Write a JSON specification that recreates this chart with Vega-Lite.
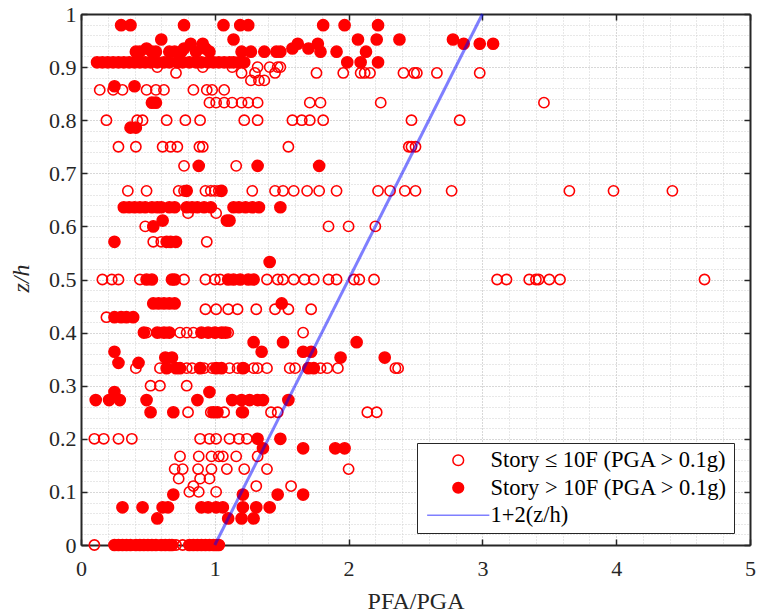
{
  "$schema": "https://vega.github.io/schema/vega-lite/v6.json",
  "width": 669,
  "height": 531,
  "autosize": {"type": "none"},
  "padding": {"left": 81, "top": 14, "right": 9, "bottom": 71},
  "background": "white",
  "config": {
    "view": {"stroke": null},
    "legend": {
      "orient": "none",
      "legendX": 336,
      "legendY": 429,
      "fillColor": "white",
      "strokeColor": "#262626",
      "strokeWidth": 1,
      "padding": 6,
      "rowPadding": 4.5,
      "symbolSize": 115,
      "symbolOffset": 24,
      "labelOffset": 21,
      "labelFont": "Liberation Serif",
      "labelFontSize": 22.5,
      "labelColor": "black",
      "labelLimit": 400
    }
  },
  "datasets": {
    "low": [
      {"pfa":0.57,"zh":0.9,"series":"lo"},{"pfa":0.91,"zh":0.9,"series":"lo"},{"pfa":1.13,"zh":0.9,"series":"lo"},{"pfa":1.32,"zh":0.9,"series":"lo"},{"pfa":1.41,"zh":0.9,"series":"lo"},{"pfa":1.47,"zh":0.9,"series":"lo"},{"pfa":1.49,"zh":0.9,"series":"lo"},
      {"pfa":0.71,"zh":0.889,"series":"lo"},{"pfa":1.2,"zh":0.889,"series":"lo"},{"pfa":1.3,"zh":0.889,"series":"lo"},{"pfa":1.45,"zh":0.889,"series":"lo"},{"pfa":1.76,"zh":0.889,"series":"lo"},{"pfa":1.96,"zh":0.889,"series":"lo"},{"pfa":2.09,"zh":0.889,"series":"lo"},{"pfa":2.12,"zh":0.889,"series":"lo"},{"pfa":2.16,"zh":0.889,"series":"lo"},{"pfa":2.41,"zh":0.889,"series":"lo"},{"pfa":2.49,"zh":0.889,"series":"lo"},{"pfa":2.51,"zh":0.889,"series":"lo"},{"pfa":2.66,"zh":0.889,"series":"lo"},{"pfa":2.98,"zh":0.889,"series":"lo"},
      {"pfa":1.27,"zh":0.875,"series":"lo"},{"pfa":1.33,"zh":0.875,"series":"lo"},{"pfa":1.37,"zh":0.875,"series":"lo"},
      {"pfa":0.14,"zh":0.857,"series":"lo"},{"pfa":0.24,"zh":0.857,"series":"lo"},{"pfa":0.31,"zh":0.857,"series":"lo"},{"pfa":0.49,"zh":0.857,"series":"lo"},{"pfa":0.56,"zh":0.857,"series":"lo"},{"pfa":0.62,"zh":0.857,"series":"lo"},{"pfa":0.84,"zh":0.857,"series":"lo"},{"pfa":0.94,"zh":0.857,"series":"lo"},{"pfa":0.98,"zh":0.857,"series":"lo"},{"pfa":1.07,"zh":0.857,"series":"lo"},
      {"pfa":0.96,"zh":0.833,"series":"lo"},{"pfa":1.01,"zh":0.833,"series":"lo"},{"pfa":1.07,"zh":0.833,"series":"lo"},{"pfa":1.13,"zh":0.833,"series":"lo"},{"pfa":1.2,"zh":0.833,"series":"lo"},{"pfa":1.25,"zh":0.833,"series":"lo"},{"pfa":1.32,"zh":0.833,"series":"lo"},{"pfa":1.71,"zh":0.833,"series":"lo"},{"pfa":1.79,"zh":0.833,"series":"lo"},{"pfa":2.24,"zh":0.833,"series":"lo"},{"pfa":3.46,"zh":0.833,"series":"lo"},
      {"pfa":0.19,"zh":0.8,"series":"lo"},{"pfa":0.42,"zh":0.8,"series":"lo"},{"pfa":0.46,"zh":0.8,"series":"lo"},{"pfa":0.64,"zh":0.8,"series":"lo"},{"pfa":0.78,"zh":0.8,"series":"lo"},{"pfa":0.89,"zh":0.8,"series":"lo"},{"pfa":1.22,"zh":0.8,"series":"lo"},{"pfa":1.32,"zh":0.8,"series":"lo"},{"pfa":1.58,"zh":0.8,"series":"lo"},{"pfa":1.65,"zh":0.8,"series":"lo"},{"pfa":1.71,"zh":0.8,"series":"lo"},{"pfa":1.81,"zh":0.8,"series":"lo"},{"pfa":2.47,"zh":0.8,"series":"lo"},{"pfa":2.83,"zh":0.8,"series":"lo"},
      {"pfa":0.28,"zh":0.75,"series":"lo"},{"pfa":0.41,"zh":0.75,"series":"lo"},{"pfa":0.61,"zh":0.75,"series":"lo"},{"pfa":0.67,"zh":0.75,"series":"lo"},{"pfa":0.72,"zh":0.75,"series":"lo"},{"pfa":0.885,"zh":0.75,"series":"lo"},{"pfa":0.91,"zh":0.75,"series":"lo"},{"pfa":1.55,"zh":0.75,"series":"lo"},{"pfa":2.45,"zh":0.75,"series":"lo"},{"pfa":2.47,"zh":0.75,"series":"lo"},{"pfa":2.5,"zh":0.75,"series":"lo"},
      {"pfa":0.77,"zh":0.714,"series":"lo"},{"pfa":1.16,"zh":0.714,"series":"lo"},
      {"pfa":0.35,"zh":0.667,"series":"lo"},{"pfa":0.49,"zh":0.667,"series":"lo"},{"pfa":0.73,"zh":0.667,"series":"lo"},{"pfa":0.77,"zh":0.667,"series":"lo"},{"pfa":0.93,"zh":0.667,"series":"lo"},{"pfa":0.97,"zh":0.667,"series":"lo"},{"pfa":1.0,"zh":0.667,"series":"lo"},{"pfa":1.03,"zh":0.667,"series":"lo"},{"pfa":1.28,"zh":0.667,"series":"lo"},{"pfa":1.45,"zh":0.667,"series":"lo"},{"pfa":1.51,"zh":0.667,"series":"lo"},{"pfa":1.59,"zh":0.667,"series":"lo"},{"pfa":1.69,"zh":0.667,"series":"lo"},{"pfa":1.78,"zh":0.667,"series":"lo"},{"pfa":1.91,"zh":0.667,"series":"lo"},{"pfa":2.22,"zh":0.667,"series":"lo"},{"pfa":2.31,"zh":0.667,"series":"lo"},{"pfa":2.42,"zh":0.667,"series":"lo"},{"pfa":2.5,"zh":0.667,"series":"lo"},{"pfa":2.77,"zh":0.667,"series":"lo"},{"pfa":3.65,"zh":0.667,"series":"lo"},{"pfa":3.98,"zh":0.667,"series":"lo"},{"pfa":4.42,"zh":0.667,"series":"lo"},
      {"pfa":0.8,"zh":0.625,"series":"lo"},{"pfa":1.01,"zh":0.625,"series":"lo"},
      {"pfa":0.48,"zh":0.6,"series":"lo"},{"pfa":1.85,"zh":0.6,"series":"lo"},{"pfa":2.0,"zh":0.6,"series":"lo"},{"pfa":2.2,"zh":0.6,"series":"lo"},
      {"pfa":0.54,"zh":0.571,"series":"lo"},{"pfa":0.6,"zh":0.571,"series":"lo"},{"pfa":0.94,"zh":0.571,"series":"lo"},
      {"pfa":0.16,"zh":0.5,"series":"lo"},{"pfa":0.23,"zh":0.5,"series":"lo"},{"pfa":0.28,"zh":0.5,"series":"lo"},{"pfa":0.44,"zh":0.5,"series":"lo"},{"pfa":0.77,"zh":0.5,"series":"lo"},{"pfa":0.93,"zh":0.5,"series":"lo"},{"pfa":1.0,"zh":0.5,"series":"lo"},{"pfa":1.04,"zh":0.5,"series":"lo"},{"pfa":1.39,"zh":0.5,"series":"lo"},{"pfa":1.47,"zh":0.5,"series":"lo"},{"pfa":1.51,"zh":0.5,"series":"lo"},{"pfa":1.59,"zh":0.5,"series":"lo"},{"pfa":1.67,"zh":0.5,"series":"lo"},{"pfa":1.74,"zh":0.5,"series":"lo"},{"pfa":1.85,"zh":0.5,"series":"lo"},{"pfa":1.91,"zh":0.5,"series":"lo"},{"pfa":2.04,"zh":0.5,"series":"lo"},{"pfa":2.08,"zh":0.5,"series":"lo"},{"pfa":2.19,"zh":0.5,"series":"lo"},{"pfa":3.11,"zh":0.5,"series":"lo"},{"pfa":3.18,"zh":0.5,"series":"lo"},{"pfa":3.35,"zh":0.5,"series":"lo"},{"pfa":3.4,"zh":0.5,"series":"lo"},{"pfa":3.42,"zh":0.5,"series":"lo"},{"pfa":3.5,"zh":0.5,"series":"lo"},{"pfa":3.58,"zh":0.5,"series":"lo"},{"pfa":4.66,"zh":0.5,"series":"lo"},
      {"pfa":0.93,"zh":0.444,"series":"lo"},{"pfa":1.01,"zh":0.444,"series":"lo"},{"pfa":1.1,"zh":0.444,"series":"lo"},{"pfa":1.17,"zh":0.444,"series":"lo"},{"pfa":1.31,"zh":0.444,"series":"lo"},{"pfa":1.45,"zh":0.444,"series":"lo"},{"pfa":1.55,"zh":0.444,"series":"lo"},{"pfa":1.72,"zh":0.444,"series":"lo"},
      {"pfa":0.19,"zh":0.429,"series":"lo"},
      {"pfa":0.49,"zh":0.4,"series":"lo"},{"pfa":0.59,"zh":0.4,"series":"lo"},{"pfa":0.64,"zh":0.4,"series":"lo"},{"pfa":0.74,"zh":0.4,"series":"lo"},{"pfa":0.79,"zh":0.4,"series":"lo"},{"pfa":0.84,"zh":0.4,"series":"lo"},{"pfa":1.01,"zh":0.4,"series":"lo"},{"pfa":1.06,"zh":0.4,"series":"lo"},{"pfa":1.1,"zh":0.4,"series":"lo"},{"pfa":1.66,"zh":0.4,"series":"lo"},
      {"pfa":0.41,"zh":0.333,"series":"lo"},{"pfa":0.59,"zh":0.333,"series":"lo"},{"pfa":0.79,"zh":0.333,"series":"lo"},{"pfa":0.83,"zh":0.333,"series":"lo"},{"pfa":0.92,"zh":0.333,"series":"lo"},{"pfa":0.98,"zh":0.333,"series":"lo"},{"pfa":1.02,"zh":0.333,"series":"lo"},{"pfa":1.11,"zh":0.333,"series":"lo"},{"pfa":1.17,"zh":0.333,"series":"lo"},{"pfa":1.22,"zh":0.333,"series":"lo"},{"pfa":1.29,"zh":0.333,"series":"lo"},{"pfa":1.32,"zh":0.333,"series":"lo"},{"pfa":1.39,"zh":0.333,"series":"lo"},{"pfa":1.56,"zh":0.333,"series":"lo"},{"pfa":1.6,"zh":0.333,"series":"lo"},{"pfa":1.7,"zh":0.333,"series":"lo"},{"pfa":1.79,"zh":0.333,"series":"lo"},{"pfa":1.84,"zh":0.333,"series":"lo"},{"pfa":1.92,"zh":0.333,"series":"lo"},{"pfa":2.35,"zh":0.333,"series":"lo"},{"pfa":2.37,"zh":0.333,"series":"lo"},
      {"pfa":0.52,"zh":0.3,"series":"lo"},{"pfa":0.59,"zh":0.3,"series":"lo"},{"pfa":0.79,"zh":0.3,"series":"lo"},
      {"pfa":0.8,"zh":0.25,"series":"lo"},{"pfa":0.97,"zh":0.25,"series":"lo"},{"pfa":1.07,"zh":0.25,"series":"lo"},{"pfa":1.2,"zh":0.25,"series":"lo"},{"pfa":1.42,"zh":0.25,"series":"lo"},{"pfa":1.47,"zh":0.25,"series":"lo"},{"pfa":2.14,"zh":0.25,"series":"lo"},{"pfa":2.21,"zh":0.25,"series":"lo"},
      {"pfa":0.1,"zh":0.2,"series":"lo"},{"pfa":0.17,"zh":0.2,"series":"lo"},{"pfa":0.28,"zh":0.2,"series":"lo"},{"pfa":0.38,"zh":0.2,"series":"lo"},{"pfa":0.89,"zh":0.2,"series":"lo"},{"pfa":0.96,"zh":0.2,"series":"lo"},{"pfa":1.01,"zh":0.2,"series":"lo"},{"pfa":1.11,"zh":0.2,"series":"lo"},{"pfa":1.18,"zh":0.2,"series":"lo"},{"pfa":1.24,"zh":0.2,"series":"lo"},
      {"pfa":0.74,"zh":0.167,"series":"lo"},{"pfa":0.88,"zh":0.167,"series":"lo"},{"pfa":0.975,"zh":0.167,"series":"lo"},{"pfa":1.03,"zh":0.167,"series":"lo"},{"pfa":1.06,"zh":0.167,"series":"lo"},{"pfa":1.16,"zh":0.167,"series":"lo"},{"pfa":1.32,"zh":0.167,"series":"lo"},
      {"pfa":0.7,"zh":0.143,"series":"lo"},{"pfa":0.76,"zh":0.143,"series":"lo"},{"pfa":0.875,"zh":0.143,"series":"lo"},{"pfa":0.975,"zh":0.143,"series":"lo"},{"pfa":1.09,"zh":0.143,"series":"lo"},{"pfa":1.22,"zh":0.143,"series":"lo"},{"pfa":1.39,"zh":0.143,"series":"lo"},{"pfa":2.0,"zh":0.143,"series":"lo"},
      {"pfa":0.73,"zh":0.125,"series":"lo"},{"pfa":0.89,"zh":0.125,"series":"lo"},{"pfa":0.96,"zh":0.125,"series":"lo"},
      {"pfa":0.84,"zh":0.111,"series":"lo"},{"pfa":1.31,"zh":0.111,"series":"lo"},{"pfa":1.57,"zh":0.111,"series":"lo"},
      {"pfa":0.81,"zh":0.1,"series":"lo"},{"pfa":0.88,"zh":0.1,"series":"lo"},{"pfa":1.01,"zh":0.1,"series":"lo"},
      {"pfa":0.1,"zh":0,"series":"lo"},{"pfa":0.71,"zh":0,"series":"lo"},{"pfa":0.76,"zh":0,"series":"lo"}
    ],
    "high": [
      {"pfa":0.3,"zh":0.979,"series":"hi"},{"pfa":0.37,"zh":0.979,"series":"hi"},{"pfa":0.77,"zh":0.979,"series":"hi"},{"pfa":1.065,"zh":0.979,"series":"hi"},{"pfa":1.19,"zh":0.979,"series":"hi"},{"pfa":1.25,"zh":0.979,"series":"hi"},{"pfa":1.81,"zh":0.979,"series":"hi"},{"pfa":1.97,"zh":0.979,"series":"hi"},{"pfa":2.22,"zh":0.979,"series":"hi"},
      {"pfa":0.6,"zh":0.952,"series":"hi"},{"pfa":1.14,"zh":0.952,"series":"hi"},{"pfa":2.07,"zh":0.952,"series":"hi"},{"pfa":2.21,"zh":0.952,"series":"hi"},{"pfa":2.38,"zh":0.952,"series":"hi"},{"pfa":2.78,"zh":0.952,"series":"hi"},
      {"pfa":0.82,"zh":0.944,"series":"hi"},{"pfa":0.91,"zh":0.944,"series":"hi"},{"pfa":1.62,"zh":0.944,"series":"hi"},{"pfa":1.77,"zh":0.944,"series":"hi"},{"pfa":2.86,"zh":0.944,"series":"hi"},{"pfa":2.98,"zh":0.944,"series":"hi"},{"pfa":3.08,"zh":0.944,"series":"hi"},
      {"pfa":0.49,"zh":0.935,"series":"hi"},{"pfa":0.77,"zh":0.935,"series":"hi"},{"pfa":0.93,"zh":0.935,"series":"hi"},{"pfa":1.58,"zh":0.935,"series":"hi"},{"pfa":1.7,"zh":0.935,"series":"hi"},
      {"pfa":0.41,"zh":0.929,"series":"hi"},{"pfa":0.44,"zh":0.929,"series":"hi"},{"pfa":0.53,"zh":0.929,"series":"hi"},{"pfa":0.56,"zh":0.929,"series":"hi"},{"pfa":0.66,"zh":0.929,"series":"hi"},{"pfa":0.7,"zh":0.929,"series":"hi"},{"pfa":0.75,"zh":0.929,"series":"hi"},{"pfa":0.86,"zh":0.929,"series":"hi"},{"pfa":0.96,"zh":0.929,"series":"hi"},{"pfa":1.2,"zh":0.929,"series":"hi"},{"pfa":1.27,"zh":0.929,"series":"hi"},{"pfa":1.37,"zh":0.929,"series":"hi"},{"pfa":1.46,"zh":0.929,"series":"hi"},{"pfa":1.49,"zh":0.929,"series":"hi"},{"pfa":1.79,"zh":0.929,"series":"hi"},{"pfa":1.91,"zh":0.929,"series":"hi"},{"pfa":2.13,"zh":0.929,"series":"hi"},
      {"pfa":0.12,"zh":0.909,"series":"hi"},{"pfa":0.16,"zh":0.909,"series":"hi"},{"pfa":0.2,"zh":0.909,"series":"hi"},{"pfa":0.24,"zh":0.909,"series":"hi"},{"pfa":0.28,"zh":0.909,"series":"hi"},{"pfa":0.32,"zh":0.909,"series":"hi"},{"pfa":0.36,"zh":0.909,"series":"hi"},{"pfa":0.4,"zh":0.909,"series":"hi"},{"pfa":0.44,"zh":0.909,"series":"hi"},{"pfa":0.48,"zh":0.909,"series":"hi"},{"pfa":0.52,"zh":0.909,"series":"hi"},{"pfa":0.57,"zh":0.909,"series":"hi"},{"pfa":0.62,"zh":0.909,"series":"hi"},{"pfa":0.66,"zh":0.909,"series":"hi"},{"pfa":0.72,"zh":0.909,"series":"hi"},{"pfa":0.76,"zh":0.909,"series":"hi"},{"pfa":0.81,"zh":0.909,"series":"hi"},{"pfa":0.86,"zh":0.909,"series":"hi"},{"pfa":0.9,"zh":0.909,"series":"hi"},{"pfa":0.95,"zh":0.909,"series":"hi"},{"pfa":0.99,"zh":0.909,"series":"hi"},{"pfa":1.03,"zh":0.909,"series":"hi"},{"pfa":1.07,"zh":0.909,"series":"hi"},{"pfa":1.11,"zh":0.909,"series":"hi"},{"pfa":1.14,"zh":0.909,"series":"hi"},{"pfa":1.18,"zh":0.909,"series":"hi"},{"pfa":1.22,"zh":0.909,"series":"hi"},{"pfa":1.99,"zh":0.909,"series":"hi"},{"pfa":2.09,"zh":0.909,"series":"hi"},{"pfa":2.22,"zh":0.909,"series":"hi"},
      {"pfa":0.25,"zh":0.864,"series":"hi"},{"pfa":0.4,"zh":0.864,"series":"hi"},
      {"pfa":0.53,"zh":0.833,"series":"hi"},{"pfa":0.56,"zh":0.833,"series":"hi"},
      {"pfa":0.37,"zh":0.786,"series":"hi"},{"pfa":0.41,"zh":0.786,"series":"hi"},
      {"pfa":0.88,"zh":0.714,"series":"hi"},{"pfa":1.32,"zh":0.714,"series":"hi"},{"pfa":1.78,"zh":0.714,"series":"hi"},
      {"pfa":0.79,"zh":0.667,"series":"hi"},{"pfa":1.05,"zh":0.667,"series":"hi"},
      {"pfa":0.32,"zh":0.636,"series":"hi"},{"pfa":0.36,"zh":0.636,"series":"hi"},{"pfa":0.4,"zh":0.636,"series":"hi"},{"pfa":0.44,"zh":0.636,"series":"hi"},{"pfa":0.48,"zh":0.636,"series":"hi"},{"pfa":0.53,"zh":0.636,"series":"hi"},{"pfa":0.57,"zh":0.636,"series":"hi"},{"pfa":0.6,"zh":0.636,"series":"hi"},{"pfa":0.66,"zh":0.636,"series":"hi"},{"pfa":0.7,"zh":0.636,"series":"hi"},{"pfa":0.79,"zh":0.636,"series":"hi"},{"pfa":0.83,"zh":0.636,"series":"hi"},{"pfa":0.87,"zh":0.636,"series":"hi"},{"pfa":0.92,"zh":0.636,"series":"hi"},{"pfa":0.97,"zh":0.636,"series":"hi"},{"pfa":1.14,"zh":0.636,"series":"hi"},{"pfa":1.18,"zh":0.636,"series":"hi"},{"pfa":1.23,"zh":0.636,"series":"hi"},{"pfa":1.28,"zh":0.636,"series":"hi"},{"pfa":1.33,"zh":0.636,"series":"hi"},{"pfa":1.49,"zh":0.636,"series":"hi"},
      {"pfa":0.61,"zh":0.611,"series":"hi"},{"pfa":1.09,"zh":0.611,"series":"hi"},{"pfa":1.11,"zh":0.611,"series":"hi"},
      {"pfa":0.54,"zh":0.6,"series":"hi"},
      {"pfa":0.25,"zh":0.571,"series":"hi"},{"pfa":0.64,"zh":0.571,"series":"hi"},{"pfa":0.67,"zh":0.571,"series":"hi"},{"pfa":0.71,"zh":0.571,"series":"hi"},
      {"pfa":1.41,"zh":0.533,"series":"hi"},
      {"pfa":0.49,"zh":0.5,"series":"hi"},{"pfa":0.53,"zh":0.5,"series":"hi"},{"pfa":0.68,"zh":0.5,"series":"hi"},{"pfa":0.7,"zh":0.5,"series":"hi"},{"pfa":1.1,"zh":0.5,"series":"hi"},{"pfa":1.14,"zh":0.5,"series":"hi"},{"pfa":1.19,"zh":0.5,"series":"hi"},{"pfa":1.25,"zh":0.5,"series":"hi"},{"pfa":1.29,"zh":0.5,"series":"hi"},
      {"pfa":0.54,"zh":0.455,"series":"hi"},{"pfa":0.58,"zh":0.455,"series":"hi"},{"pfa":0.62,"zh":0.455,"series":"hi"},{"pfa":0.66,"zh":0.455,"series":"hi"},{"pfa":0.7,"zh":0.455,"series":"hi"},{"pfa":1.5,"zh":0.455,"series":"hi"},
      {"pfa":0.25,"zh":0.429,"series":"hi"},{"pfa":0.3,"zh":0.429,"series":"hi"},{"pfa":0.34,"zh":0.429,"series":"hi"},{"pfa":0.39,"zh":0.429,"series":"hi"},
      {"pfa":0.47,"zh":0.4,"series":"hi"},{"pfa":0.57,"zh":0.4,"series":"hi"},{"pfa":0.62,"zh":0.4,"series":"hi"},{"pfa":0.66,"zh":0.4,"series":"hi"},{"pfa":0.9,"zh":0.4,"series":"hi"},{"pfa":0.95,"zh":0.4,"series":"hi"},{"pfa":1.0,"zh":0.4,"series":"hi"},{"pfa":1.05,"zh":0.4,"series":"hi"},{"pfa":1.08,"zh":0.4,"series":"hi"},
      {"pfa":1.29,"zh":0.382,"series":"hi"},{"pfa":1.51,"zh":0.382,"series":"hi"},{"pfa":2.06,"zh":0.382,"series":"hi"},
      {"pfa":0.25,"zh":0.364,"series":"hi"},{"pfa":1.35,"zh":0.364,"series":"hi"},{"pfa":1.66,"zh":0.364,"series":"hi"},{"pfa":1.72,"zh":0.364,"series":"hi"},
      {"pfa":0.63,"zh":0.353,"series":"hi"},{"pfa":0.68,"zh":0.353,"series":"hi"},{"pfa":1.94,"zh":0.353,"series":"hi"},{"pfa":2.27,"zh":0.353,"series":"hi"},
      {"pfa":0.28,"zh":0.343,"series":"hi"},{"pfa":0.43,"zh":0.343,"series":"hi"},
      {"pfa":0.64,"zh":0.333,"series":"hi"},{"pfa":0.71,"zh":0.333,"series":"hi"},{"pfa":0.74,"zh":0.333,"series":"hi"},{"pfa":0.89,"zh":0.333,"series":"hi"},{"pfa":1.01,"zh":0.333,"series":"hi"},{"pfa":1.05,"zh":0.333,"series":"hi"},{"pfa":1.21,"zh":0.333,"series":"hi"},{"pfa":1.7,"zh":0.333,"series":"hi"},{"pfa":1.74,"zh":0.333,"series":"hi"},
      {"pfa":0.25,"zh":0.288,"series":"hi"},{"pfa":0.96,"zh":0.288,"series":"hi"},
      {"pfa":0.11,"zh":0.273,"series":"hi"},{"pfa":0.21,"zh":0.273,"series":"hi"},{"pfa":0.29,"zh":0.273,"series":"hi"},{"pfa":0.49,"zh":0.273,"series":"hi"},{"pfa":0.87,"zh":0.273,"series":"hi"},{"pfa":1.13,"zh":0.273,"series":"hi"},{"pfa":1.2,"zh":0.273,"series":"hi"},{"pfa":1.26,"zh":0.273,"series":"hi"},{"pfa":1.32,"zh":0.273,"series":"hi"},{"pfa":1.36,"zh":0.273,"series":"hi"},{"pfa":1.55,"zh":0.273,"series":"hi"},
      {"pfa":0.52,"zh":0.25,"series":"hi"},{"pfa":0.69,"zh":0.25,"series":"hi"},{"pfa":0.99,"zh":0.25,"series":"hi"},{"pfa":1.02,"zh":0.25,"series":"hi"},{"pfa":1.21,"zh":0.25,"series":"hi"},
      {"pfa":1.32,"zh":0.2,"series":"hi"},{"pfa":1.49,"zh":0.2,"series":"hi"},
      {"pfa":1.36,"zh":0.182,"series":"hi"},{"pfa":1.66,"zh":0.182,"series":"hi"},{"pfa":1.9,"zh":0.182,"series":"hi"},{"pfa":1.97,"zh":0.182,"series":"hi"},
      {"pfa":0.69,"zh":0.095,"series":"hi"},{"pfa":1.21,"zh":0.095,"series":"hi"},{"pfa":1.47,"zh":0.095,"series":"hi"},{"pfa":1.66,"zh":0.095,"series":"hi"},
      {"pfa":0.31,"zh":0.071,"series":"hi"},{"pfa":0.46,"zh":0.071,"series":"hi"},{"pfa":0.61,"zh":0.071,"series":"hi"},{"pfa":0.65,"zh":0.071,"series":"hi"},{"pfa":0.9,"zh":0.071,"series":"hi"},{"pfa":0.95,"zh":0.071,"series":"hi"},{"pfa":1.01,"zh":0.071,"series":"hi"},{"pfa":1.06,"zh":0.071,"series":"hi"},{"pfa":1.21,"zh":0.071,"series":"hi"},{"pfa":1.31,"zh":0.071,"series":"hi"},{"pfa":1.41,"zh":0.071,"series":"hi"},
      {"pfa":0.57,"zh":0.05,"series":"hi"},{"pfa":1.1,"zh":0.05,"series":"hi"},{"pfa":1.2,"zh":0.05,"series":"hi"},{"pfa":1.29,"zh":0.05,"series":"hi"},
      {"pfa":0.25,"zh":0,"series":"hi"},{"pfa":0.28,"zh":0,"series":"hi"},{"pfa":0.31,"zh":0,"series":"hi"},{"pfa":0.34,"zh":0,"series":"hi"},{"pfa":0.37,"zh":0,"series":"hi"},{"pfa":0.41,"zh":0,"series":"hi"},{"pfa":0.44,"zh":0,"series":"hi"},{"pfa":0.47,"zh":0,"series":"hi"},{"pfa":0.5,"zh":0,"series":"hi"},{"pfa":0.53,"zh":0,"series":"hi"},{"pfa":0.56,"zh":0,"series":"hi"},{"pfa":0.6,"zh":0,"series":"hi"},{"pfa":0.63,"zh":0,"series":"hi"},{"pfa":0.66,"zh":0,"series":"hi"},{"pfa":0.68,"zh":0,"series":"hi"},{"pfa":0.81,"zh":0,"series":"hi"},{"pfa":0.84,"zh":0,"series":"hi"},{"pfa":0.87,"zh":0,"series":"hi"},{"pfa":0.9,"zh":0,"series":"hi"},{"pfa":0.93,"zh":0,"series":"hi"},{"pfa":0.96,"zh":0,"series":"hi"},{"pfa":0.99,"zh":0,"series":"hi"},{"pfa":1.01,"zh":0,"series":"hi"},{"pfa":1.03,"zh":0,"series":"hi"}
    ],
    "fit": [
      {"pfa":1,"zh":0,"series":"fit"},
      {"pfa":3,"zh":1,"series":"fit"}
    ]
  },
  "layer": [
    {
      "data": {"name": "low"},
      "mark": {"type": "point", "filled": false, "opacity": 1, "size": 105, "strokeWidth": 1.6},
      "encoding": {
        "x": {
          "field": "pfa", "type": "quantitative", "title": "PFA/PGA",
          "scale": {"domain": [0, 5], "nice": false, "zero": false},
          "axis": {
            "orient": "bottom", "values": [0, 1, 2, 3, 4, 5], "format": "~g", "labelFlush": false,
            "grid": true, "gridDash": [1, 2], "gridColor": "#b0b0b0", "gridWidth": 1,
            "domainColor": "#262626", "domainWidth": 2,
            "tickColor": "#262626", "tickWidth": 1.5, "tickSize": -6,
            "labelFont": "Liberation Serif", "labelFontSize": 22, "labelColor": "#262626", "labelPadding": 19,
            "titleFont": "Liberation Serif", "titleFontSize": 24, "titleFontWeight": "normal", "titleColor": "#262626",
            "titleX": 334.5, "titleY": 63, "titleBaseline": "alphabetic", "titleAlign": "center",
            "zindex": 0
          }
        },
        "y": {
          "field": "zh", "type": "quantitative", "title": "z/h",
          "scale": {"domain": [0, 1], "nice": false, "zero": false},
          "axis": {
            "orient": "left", "values": [0, 0.1, 0.2, 0.3, 0.4, 0.5, 0.6, 0.7, 0.8, 0.9, 1], "format": "~g", "labelFlush": false,
            "grid": true, "gridDash": [1, 2], "gridColor": "#b0b0b0", "gridWidth": 1,
            "domainColor": "#262626", "domainWidth": 2,
            "tickColor": "#262626", "tickWidth": 1.5, "tickSize": -6,
            "labelFont": "Liberation Serif", "labelFontSize": 22, "labelColor": "#262626", "labelPadding": 11,
            "titleFont": "Liberation Serif", "titleFontSize": 24, "titleFontWeight": "normal", "titleFontStyle": "italic", "titleColor": "#262626",
            "titleX": -53, "titleY": 264, "titleAngle": 270, "titleBaseline": "alphabetic", "titleAlign": "center",
            "zindex": 0
          }
        },
        "fill": {"field": "series", "type": "nominal", "title": null,
          "scale": {"domain": ["lo", "hi", "fit"], "range": ["transparent", "red", "transparent"]},
          "legend": {"labelExpr": "datum.value == 'lo' ? 'Story ≤ 10F (PGA > 0.1g)' : datum.value == 'hi' ? 'Story > 10F (PGA > 0.1g)' : '1+2(z/h)'"}},
        "stroke": {"field": "series", "type": "nominal", "title": null,
          "scale": {"domain": ["lo", "hi", "fit"], "range": ["red", "red", "rgba(0,0,255,0.5)"]},
          "legend": {"labelExpr": "datum.value == 'lo' ? 'Story ≤ 10F (PGA > 0.1g)' : datum.value == 'hi' ? 'Story > 10F (PGA > 0.1g)' : '1+2(z/h)'"}},
        "shape": {"field": "series", "type": "nominal", "title": null,
          "scale": {"domain": ["lo", "hi", "fit"], "range": ["circle", "circle", "M-5.8,0L5.8,0"]},
          "legend": {"labelExpr": "datum.value == 'lo' ? 'Story ≤ 10F (PGA > 0.1g)' : datum.value == 'hi' ? 'Story > 10F (PGA > 0.1g)' : '1+2(z/h)'"}}
      }
    },
    {
      "data": {"name": "high"},
      "mark": {"type": "point", "filled": true, "opacity": 1, "size": 125, "strokeWidth": 1.5},
      "encoding": {
        "x": {
          "field": "pfa", "type": "quantitative", "title": null,
          "axis": {
            "orient": "top", "values": [0, 1, 2, 3, 4, 5], "labels": false, "grid": false,
            "domainColor": "#262626", "domainWidth": 2,
            "tickColor": "#262626", "tickWidth": 1.5, "tickSize": -6, "zindex": 0
          }
        },
        "y": {
          "field": "zh", "type": "quantitative", "title": null,
          "axis": {
            "orient": "right", "values": [0, 0.1, 0.2, 0.3, 0.4, 0.5, 0.6, 0.7, 0.8, 0.9, 1], "labels": false, "grid": false,
            "domainColor": "#262626", "domainWidth": 2,
            "tickColor": "#262626", "tickWidth": 1.5, "tickSize": -6, "zindex": 0
          }
        },
        "fill": {"field": "series", "type": "nominal", "title": null},
        "stroke": {"field": "series", "type": "nominal", "title": null},
        "shape": {"field": "series", "type": "nominal", "title": null}
      }
    },
    {
      "data": {"name": "fit"},
      "mark": {"type": "line", "strokeWidth": 3},
      "encoding": {
        "x": {
          "field": "pfa", "type": "quantitative", "title": null,
          "axis": {
            "orient": "bottom", "labels": false, "ticks": false, "domain": false,
            "values": [0.2, 0.4, 0.6, 0.8, 1.2, 1.4, 1.6, 1.8, 2.2, 2.4, 2.6, 2.8, 3.2, 3.4, 3.6, 3.8, 4.2, 4.4, 4.6, 4.8],
            "grid": true, "gridDash": [1, 2], "gridColor": "#d0d0d0", "gridWidth": 1, "zindex": 0
          }
        },
        "y": {
          "field": "zh", "type": "quantitative", "title": null,
          "axis": {
            "orient": "left", "labels": false, "ticks": false, "domain": false,
            "values": [0.02, 0.04, 0.06, 0.08, 0.12, 0.14, 0.16, 0.18, 0.22, 0.24, 0.26, 0.28, 0.32, 0.34, 0.36, 0.38, 0.42, 0.44, 0.46, 0.48, 0.52, 0.54, 0.56, 0.58, 0.62, 0.64, 0.66, 0.68, 0.72, 0.74, 0.76, 0.78, 0.82, 0.84, 0.86, 0.88, 0.92, 0.94, 0.96, 0.98],
            "grid": true, "gridDash": [1, 2], "gridColor": "#d0d0d0", "gridWidth": 1, "zindex": 0
          }
        },
        "stroke": {"field": "series", "type": "nominal", "title": null}
      }
    }
  ],
  "resolve": {"axis": {"x": "independent", "y": "independent"}}
}
